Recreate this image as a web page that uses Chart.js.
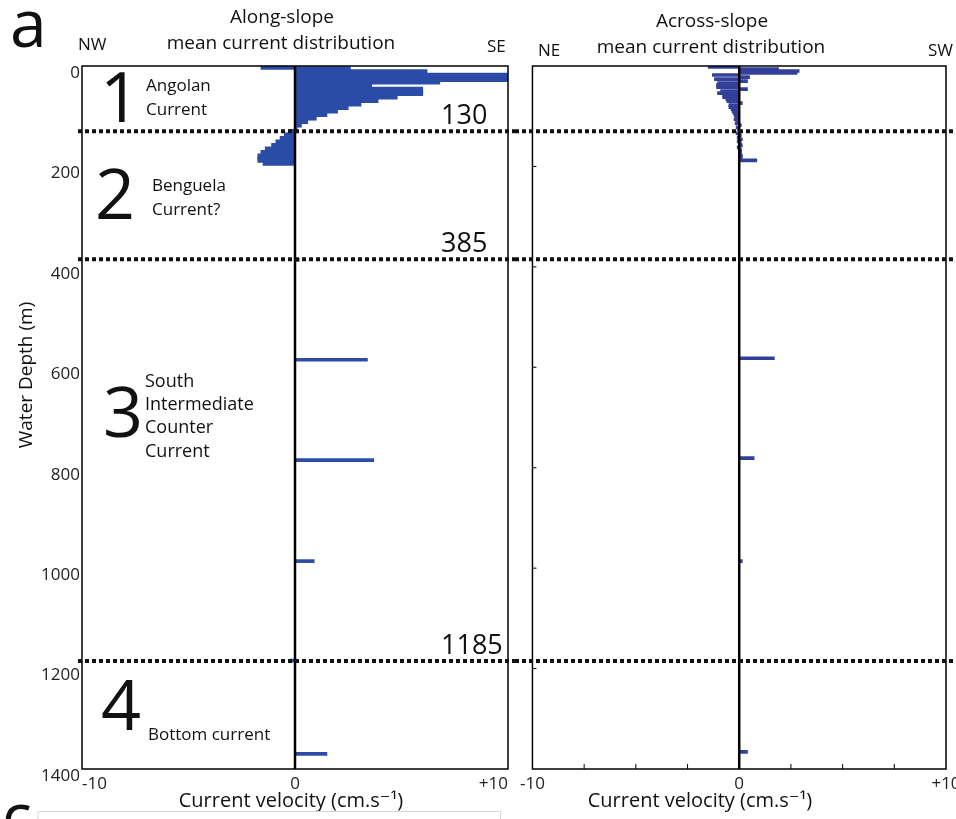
<!DOCTYPE html>
<html>
<head>
<meta charset="utf-8">
<script src="https://cdn.jsdelivr.net/npm/chart.js@4.4.1/dist/chart.umd.min.js"></script>
<style>
  html, body { margin: 0; padding: 0; background: #fff; overflow: hidden; }
  canvas { position: absolute; top: 0; }
  #along { left: 0; }
  #across { left: 515px; }
</style>
</head>
<body>
<canvas id="along" width="515" height="819"></canvas>
<canvas id="across" width="460" height="819"></canvas>
<script>
// along-slope profile, upper 200 m (depth m, velocity cm/s, + = SE)
const alongDepth = [2, 6, 12, 19, 26, 31, 36, 41, 47, 54, 61, 68, 75, 82, 89, 96, 103, 110, 117, 124,
  131, 138, 145, 152, 159, 166, 173, 180, 187, 193];
const alongVel = [-1.6, 2.6, 6.2, 10, 10, 6.8, 3.6, 3.6, 6.0, 6.0, 4.8, 3.9, 3.1, 2.5, 2.0, 1.5, 1.0, 0.6, 0.3, 0.1,
  -0.3, -0.5, -0.7, -0.9, -1.1, -1.4, -1.6, -1.75, -1.75, -1.5];
// along-slope, deeper single measurements
const alongDeepDepth = [386, 585, 785, 986, 1184, 1370];
const alongDeepVel = [0.2, 3.4, 3.7, 0.9, -0.2, 1.5];

// across-slope profile, upper 200 m (depth m, velocity cm/s, + = SW)
const acrossDepth = [2, 6, 10, 14, 18, 22, 26, 30, 34, 38, 42, 46, 50, 54, 58, 62, 66, 70, 74, 78,
  82, 86, 90, 94, 98, 102, 106, 110, 114, 118, 122, 126, 130, 134, 138, 142, 146, 150, 154, 158,
  162, 166, 170, 174, 178, 182, 188];
const acrossVel = [-1.5, 1.9, 2.9, 2.8, -1.3, 0.5, -1.2, 0.4, -1.05, -1.1, -1.1, 0.4, -0.9, -1.05, -0.8, -0.8, -0.65, -0.6, 0.15, -0.5,
  -0.5, -0.4, -0.35, -0.3, -0.25, -0.2, -0.25, -0.15, -0.2, 0.1, -0.15, -0.1, 0.1, -0.15, 0.1, -0.1, 0.15, -0.1, 0.1, 0.15,
  -0.1, 0.1, 0.12, 0.1, 0.15, 0.15, 0.85];
// across-slope, deeper single measurements
const acrossDeepDepth = [582, 781, 986, 1366];
const acrossDeepVel = [1.7, 0.72, 0.15, 0.4];

// water mass boundaries (m)
const boundaryDepth = [130, 385, 1185];
const boundaryLabel = ['130', '385', '1185'];

const depthTicks = { min: 0, max: 1400, step: 200 };
const velTicks = { min: -10, max: 10 };

Chart.defaults.font.family = "'Open Sans', 'DejaVu Sans', sans-serif";
Chart.defaults.color = '#222';

const FONT = "'Open Sans', 'DejaVu Sans', sans-serif";

function seg(ctx, x1, y1, x2, y2) {
  ctx.beginPath();
  ctx.moveTo(x1, y1);
  ctx.lineTo(x2, y2);
  ctx.stroke();
}

function txt(ctx, s, x, y, size, align) {
  ctx.font = size + 'px ' + FONT;
  ctx.textAlign = align || 'left';
  ctx.textBaseline = 'alphabetic';
  ctx.fillText(s, x, y);
}

const leftText = [
  ['a', 10, 47, 66, 'left'],
  ['NW', 78, 50, 17, 'left'],
  ['Along-slope', 282, 23, 19, 'center'],
  ['mean current distribution', 281, 49, 19, 'center'],
  ['SE', 487, 52, 17, 'left'],
  ['1', 100, 122, 70, 'left'],
  ['Angolan', 146, 91, 17, 'left'],
  ['Current', 146, 115, 17, 'left'],
  ['2', 95, 219, 70, 'left'],
  ['Benguela', 152, 191, 17, 'left'],
  ['Current?', 152, 215, 17, 'left'],
  ['3', 103, 437, 70, 'left'],
  ['South', 145, 387, 18, 'left'],
  ['Intermediate', 145, 410, 18, 'left'],
  ['Counter', 145, 433, 18, 'left'],
  ['Current', 145, 457, 18, 'left'],
  ['4', 101, 730, 70, 'left'],
  ['Bottom current', 148, 740, 17, 'left'],
  ['Current velocity (cm.s\u207B\u00B9)', 291, 807, 20, 'center'],
  ['c', 2, 838, 62, 'left']
];

const rightText = [
  ['Across-slope', 197, 27, 19, 'center'],
  ['mean current distribution', 196, 53, 19, 'center'],
  ['NE', 23, 56, 17, 'left'],
  ['SW', 413, 56, 17, 'left'],
  ['Current velocity (cm.s\u207B\u00B9)', 185, 807, 20, 'center']
];

const overlay = {
  id: 'overlay',
  afterDatasetsDraw(chart, args, opts) {
    const ctx = chart.ctx, a = chart.chartArea;
    const xs = chart.scales.x, ys = chart.scales.y;
    const left = opts.side === 'left';
    ctx.save();
    ctx.strokeStyle = '#000';
    // zero line
    ctx.lineWidth = 2.5;
    const x0 = xs.getPixelForValue(0);
    seg(ctx, x0, a.top, x0, a.bottom);
    // frame
    ctx.lineWidth = 1.5;
    ctx.strokeRect(a.left, a.top, a.width, a.height);
    if (!left) {
      // inward ticks
      ctx.lineWidth = 1;
      ys.ticks.forEach(t => {
        if (t.value > depthTicks.min && t.value < depthTicks.max) {
          const y = ys.getPixelForValue(t.value);
          seg(ctx, a.left, y, a.left + 4, y);
        }
      });
      xs.ticks.forEach(t => {
        if (Math.abs(t.value) < 10) {
          const x = xs.getPixelForValue(t.value);
          seg(ctx, x, a.bottom, x, a.bottom - 5);
        }
      });
    }
    // boundaries
    ctx.setLineDash([4, 3]);
    ctx.lineWidth = 4;
    ctx.strokeStyle = '#111';
    const from = left ? 78 : 0;
    boundaryDepth.forEach(d => {
      const y = ys.getPixelForValue(d);
      seg(ctx, from, y, chart.width, y);
    });
    ctx.restore();
  },
  afterDraw(chart, args, opts) {
    const ctx = chart.ctx;
    const left = opts.side === 'left';
    ctx.save();
    ctx.fillStyle = '#111';
    (left ? leftText : rightText).forEach(t => txt(ctx, t[0], t[1], t[2], t[3], t[4]));
    if (left) {
      const ys = chart.scales.y;
      boundaryDepth.forEach((d, i) => {
        txt(ctx, boundaryLabel[i], 441, ys.getPixelForValue(d) - 7, 27, 'left');
      });
      // y title
      ctx.save();
      ctx.translate(27, 375);
      ctx.rotate(-Math.PI / 2);
      ctx.font = '19px ' + FONT;
      ctx.textAlign = 'center';
      ctx.textBaseline = 'middle';
      ctx.fillText('Water Depth (m)', 0, 0);
      ctx.restore();
      // edge of panel c below
      ctx.strokeStyle = '#d6d6d6';
      ctx.lineWidth = 1;
      ctx.beginPath();
      ctx.moveTo(38, 819);
      ctx.lineTo(38, 811.5);
      ctx.lineTo(500.5, 811.5);
      ctx.lineTo(500.5, 819);
      ctx.stroke();
    }
    ctx.restore();
  }
};

const velLabel = v => (v > 0 ? '+' + v : String(v));
const toPoints = (depths, vels) => depths.map((d, i) => ({ x: vels[i], y: d }));

function profileChart(id, depths, vels, deepDepths, deepVels, color, side) {
  const isLeft = side === 'left';
  return new Chart(document.getElementById(id), {
    type: 'bar',
    data: {
      datasets: [{
        data: toPoints(depths, vels),
        backgroundColor: color,
        borderWidth: 0,
        barThickness: isLeft ? 5 : 3,
        grouped: false,
        clip: 0
      }, {
        data: toPoints(deepDepths, deepVels),
        backgroundColor: color,
        borderWidth: 0,
        barThickness: 3,
        grouped: false,
        clip: 0
      }]
    },
    options: {
      responsive: false,
      animation: false,
      devicePixelRatio: 1,
      indexAxis: 'y',
      layout: { padding: { left: 0, top: 66, right: isLeft ? 7 : 29, bottom: 20 } },
      plugins: {
        legend: { display: false },
        tooltip: { enabled: false },
        overlay: { side: side }
      },
      scales: {
        x: {
          type: 'linear',
          min: velTicks.min,
          max: velTicks.max,
          offset: false,
          grid: { display: false, drawTicks: false, offset: false },
          border: { display: false },
          ticks: {
            stepSize: isLeft ? 10 : 2.5,
            align: isLeft ? 'inner' : 'center',
            autoSkip: false,
            maxRotation: 0,
            padding: 5,
            color: '#222',
            font: { size: 17 },
            callback: v => (v % 10 === 0 ? velLabel(v) : '')
          },
          afterFit: s => { s.height = 30; }
        },
        y: {
          type: 'linear',
          reverse: true,
          min: depthTicks.min,
          max: depthTicks.max,
          offset: false,
          grid: { display: false, drawTicks: false, offset: false },
          border: { display: false },
          ticks: {
            display: isLeft,
            stepSize: depthTicks.step,
            padding: 2,
            labelOffset: 7,
            color: '#222',
            font: { size: 17 },
            callback: v => String(v)
          },
          afterFit: s => { s.width = isLeft ? 82 : 17; }
        }
      }
    },
    plugins: [overlay]
  });
}

profileChart('along', alongDepth, alongVel, alongDeepDepth, alongDeepVel, '#2b4ca6', 'left');
profileChart('across', acrossDepth, acrossVel, acrossDeepDepth, acrossDeepVel, '#33409a', 'right');
</script>
</body>
</html>
